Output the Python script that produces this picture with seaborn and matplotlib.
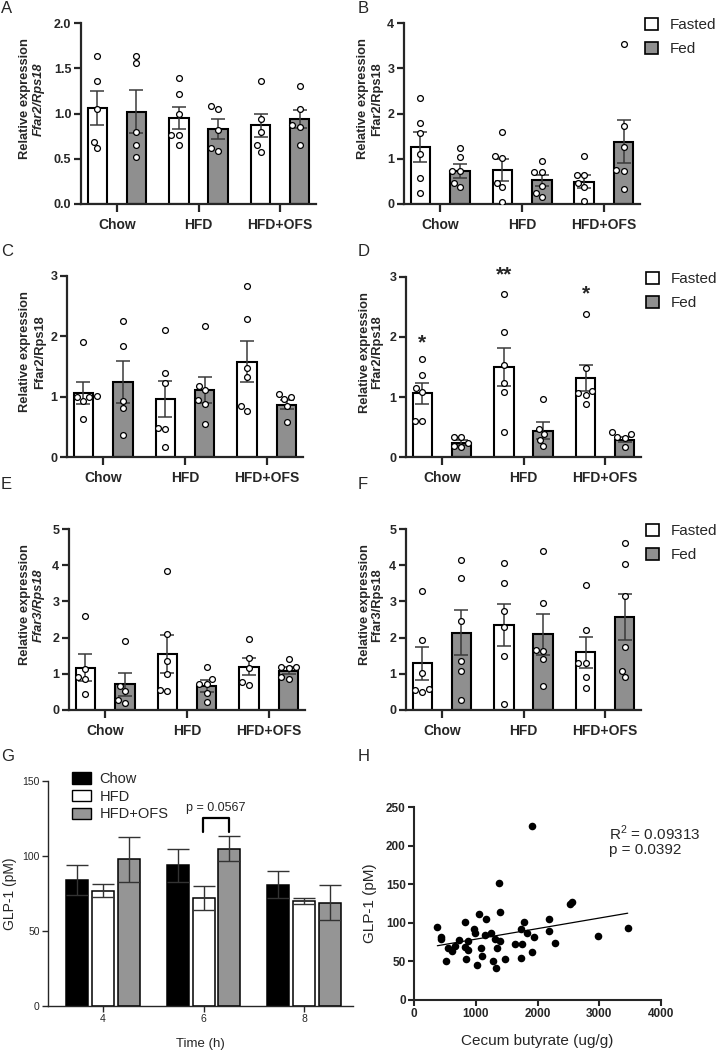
import numpy as np
import pandas as pd
import matplotlib
matplotlib.use("Agg")
import matplotlib.pyplot as plt
import seaborn as sns
from matplotlib.patches import Patch

# ---------------- data ----------------
groups = ["Chow", "HFD", "HFD+OFS"]
conditions = ["Fasted", "Fed"]

# Panel A  (Ffar2/Rps18, italic)
A_fasted_mean = [1.06, 0.95, 0.87]
A_fasted_sem = [0.19, 0.12, 0.13]
A_fed_mean = [1.02, 0.83, 0.94]
A_fed_sem = [0.24, 0.11, 0.10]
A_fasted_pts = [[1.64, 1.36, 1.05, 0.69, 0.62], [1.39, 1.21, 1.00, 0.76, 0.76, 0.65], [1.36, 0.94, 0.80, 0.65, 0.58]]
A_fed_pts = [[1.64, 1.56, 0.80, 0.65, 0.52], [1.08, 1.05, 0.82, 0.59, 0.62], [1.30, 1.05, 0.87, 0.85, 0.65]]

# Panel B
B_fasted_mean = [1.26, 0.75, 0.49]
B_fasted_sem = [0.33, 0.24, 0.14]
B_fed_mean = [0.735, 0.52, 1.38]
B_fed_sem = [0.15, 0.13, 0.48]
B_fasted_pts = [[2.35, 1.79, 1.56, 1.10, 0.58, 0.24], [1.60, 1.07, 1.01, 0.47, 0.37, 0.04], [1.07, 0.63, 0.63, 0.46, 0.37, 0.06]]
B_fed_pts = [[1.23, 1.04, 0.72, 0.72, 0.37, 0.47], [0.96, 0.71, 0.71, 0.40, 0.16, 0.25], [3.53, 1.73, 1.26, 0.76, 0.74, 0.34]]

# Panel C
C_fasted_mean = [1.06, 0.96, 1.58]
C_fasted_sem = [0.18, 0.30, 0.34]
C_fed_mean = [1.24, 1.11, 0.87]
C_fed_sem = [0.35, 0.22, 0.08]
C_fasted_pts = [[1.91, 1.01, 1.00, 0.99, 0.93, 0.63], [2.10, 1.39, 1.22, 0.48, 0.47, 0.16], [2.84, 2.29, 1.48, 1.33, 0.84, 0.77]]
C_fed_pts = [[2.25, 1.84, 0.93, 0.81, 0.36], [2.17, 1.18, 1.11, 0.94, 0.88, 0.54], [1.00, 1.04, 0.96, 0.85, 0.58]]

# Panel D
D_fasted_mean = [1.06, 1.50, 1.32]
D_fasted_sem = [0.17, 0.32, 0.22]
D_fed_mean = [0.24, 0.44, 0.29]
D_fed_sem = [0.04, 0.14, 0.04]
D_fasted_pts = [[1.63, 1.36, 1.15, 1.08, 0.60, 0.60], [2.72, 2.08, 1.53, 1.24, 1.09, 0.41], [2.38, 1.49, 1.10, 1.06, 1.04, 0.89]]
D_fed_pts = [[0.34, 0.33, 0.23, 0.19, 0.17], [0.97, 0.47, 0.39, 0.29, 0.18], [0.38, 0.41, 0.33, 0.31, 0.17]]
D_stars = ["*", "**", "*"]
D_star_y = [1.90, 3.03, 2.72]

# Panel E  (Ffar3/Rps18, italic)
E_fasted_mean = [1.17, 1.54, 1.20]
E_fasted_sem = [0.38, 0.53, 0.23]
E_fed_mean = [0.71, 0.67, 1.09]
E_fed_sem = [0.31, 0.17, 0.10]
E_fasted_pts = [[2.59, 1.13, 0.92, 0.87, 0.44], [3.84, 2.10, 1.35, 0.99, 0.53, 0.56], [1.95, 1.45, 1.15, 0.70, 0.77]]
E_fed_pts = [[1.91, 0.67, 0.53, 0.28, 0.20], [1.19, 0.85, 0.71, 0.71, 0.46, 0.23], [1.40, 1.20, 1.20, 1.16, 0.85, 0.90]]

# Panel F
F_fasted_mean = [1.29, 2.35, 1.60]
F_fasted_sem = [0.45, 0.58, 0.43]
F_fed_mean = [2.14, 2.09, 2.57]
F_fed_sem = [0.62, 0.56, 0.63]
F_fasted_pts = [[3.30, 1.92, 1.01, 0.51, 0.57, 0.55], [4.06, 3.51, 2.74, 2.28, 1.49, 0.17], [3.45, 2.20, 1.29, 1.31, 0.90, 0.62]]
F_fed_pts = [[4.14, 3.64, 2.47, 1.34, 1.09, 0.28], [4.38, 2.95, 1.62, 1.66, 1.40, 0.67], [4.61, 4.04, 3.16, 1.73, 1.09, 0.91]]

# Panel G  GLP-1 over time
G_times = ["4", "6", "8"]
G_groups = ["Chow", "HFD", "HFD+OFS"]
G_chow_mean = [84, 94, 81]
G_chow_sem = [10, 11, 9]
G_hfd_mean = [77, 72, 70]
G_hfd_sem = [4.5, 8, 2]
G_ofs_mean = [98, 105, 69]
G_ofs_sem = [15, 8.5, 11.5]

# Panel H  scatter
H_butyrate = [378, 437, 430, 518, 556, 610, 658, 723, 826, 837, 830, 880, 880, 971, 993, 1025,
              1047, 1085, 1101, 1155, 1171, 1241, 1284, 1306, 1322, 1338, 1382, 1387, 1397, 1478,
              1630, 1738, 1754, 1738, 1781, 1824, 1915, 1948, 1914, 2191, 2191, 2277, 2531, 2558,
              2987, 3461]
H_glp1 = [94, 81, 79, 50, 68, 64, 70, 78, 101, 53, 69, 77, 65, 92, 87, 45,
          112, 68, 57, 84, 105, 87, 50, 79, 42, 68, 151, 77, 114, 53,
          72, 92, 73, 55, 101, 87, 62, 82, 225, 105, 90, 74, 125, 127,
          83, 93]

# ---------------- style ----------------
sns.set_style("ticks")
plt.rcParams["font.family"] = ["Liberation Sans", "DejaVu Sans"]
plt.rcParams["mathtext.fontset"] = "custom"
plt.rcParams["mathtext.rm"] = "Liberation Sans"
FED = "#8f8f8f"
W, H = 716, 1050

fig = plt.figure(figsize=(7.16, 10.5), dpi=100)


def add_ax(l, t, r, b):
    return fig.add_axes([l / W, 1 - b / H, (r - l) / W, (b - t) / H])


def bar_panel(ax, fmean, fsem, dmean, dsem, fpts, dpts, ymax, yticks, fmt, gene, italic,
              lab1_dx, lab2_dx, legend=False):
    offs = {"Fasted": -0.24, "Fed": 0.24}
    rows, prow = [], []
    for cond, means, sems, pts in (("Fasted", fmean, fsem, fpts), ("Fed", dmean, dsem, dpts)):
        for gi, (m, s) in enumerate(zip(means, sems)):
            rows.append({"pos": gi + offs[cond], "cond": cond, "mean": m, "sem": s})
            for v in pts[gi]:
                prow.append({"pos": gi + offs[cond], "value": v})
    bars = pd.DataFrame(rows)
    pts_df = pd.DataFrame(prow)
    sns.barplot(data=bars, x="pos", y="mean", hue="cond", hue_order=conditions,
                palette={"Fasted": "white", "Fed": FED}, native_scale=True, width=0.5,
                dodge=False, edgecolor="black", linewidth=1.5, errorbar=None,
                legend=False, ax=ax, zorder=2)
    ax.errorbar(bars["pos"], bars["mean"], yerr=bars["sem"], fmt="none", ecolor="#3a3a3a",
                elinewidth=1.1, capsize=5, capthick=1.1, zorder=3)
    sns.swarmplot(data=pts_df, x="pos", y="value", native_scale=True, color="white",
                  edgecolor="black", linewidth=0.9, size=4.2, ax=ax, zorder=4)
    ax.set_xlim(-0.44, 2.44)
    ax.set_ylim(0, ymax)
    ax.set_xticks(range(len(groups)))
    ax.set_xticklabels(groups, fontsize=10, fontweight="bold")
    ax.set_yticks(yticks)
    ax.set_yticklabels([fmt.format(v) for v in yticks], fontsize=9, fontweight="bold")
    ax.set_xlabel("")
    ax.set_ylabel("")
    sns.despine(ax=ax)
    for sp in ("left", "bottom"):
        ax.spines[sp].set_linewidth(1.6)
    ax.tick_params(axis="both", width=1.6, length=5, pad=2)
    ax.tick_params(axis="x", length=6, pad=4)
    h_ax = ax.get_position().width * W
    ax.text(lab1_dx / h_ax, 0.58, "Relative expression", rotation=90, transform=ax.transAxes,
            ha="center", va="center", fontsize=9.3, fontweight="bold")
    ax.text(lab2_dx / h_ax, 0.58, gene, rotation=90, transform=ax.transAxes,
            ha="center", va="center", fontsize=9.3, fontweight="bold",
            fontstyle="italic" if italic else "normal")
    if legend:
        handles = [Patch(facecolor="white", edgecolor="black", linewidth=1.2),
                   Patch(facecolor=FED, edgecolor="black", linewidth=1.2)]
        ax.legend(handles, conditions, loc="upper left", bbox_to_anchor=(1.02, 1.03),
                  frameon=False, fontsize=11, handlelength=0.85, handleheight=0.85,
                  handletextpad=0.8, labelspacing=0.65, borderaxespad=0, borderpad=0)


axA = add_ax(81, 23, 316, 204)
bar_panel(axA, A_fasted_mean, A_fasted_sem, A_fed_mean, A_fed_sem, A_fasted_pts, A_fed_pts,
          2.0, [0, 0.5, 1.0, 1.5, 2.0], "{:.1f}", "Ffar2/Rps18", True, -56, -42)
axB = add_ax(404, 23, 640, 204)
bar_panel(axB, B_fasted_mean, B_fasted_sem, B_fed_mean, B_fed_sem, B_fasted_pts, B_fed_pts,
          4, [0, 1, 2, 3, 4], "{:.0f}", "Ffar2/Rps18", False, -41, -27, legend=True)
axC = add_ax(67, 276, 303, 457)
bar_panel(axC, C_fasted_mean, C_fasted_sem, C_fed_mean, C_fed_sem, C_fasted_pts, C_fed_pts,
          3, [0, 1, 2, 3], "{:.0f}", "Ffar2/Rps18", False, -42, -27)
axD = add_ax(406, 277, 641, 457)
bar_panel(axD, D_fasted_mean, D_fasted_sem, D_fed_mean, D_fed_sem, D_fasted_pts, D_fed_pts,
          3, [0, 1, 2, 3], "{:.0f}", "Ffar2/Rps18", False, -41, -29, legend=True)
for gi, (s, y) in enumerate(zip(D_stars, D_star_y)):
    axD.text(gi - 0.24, y, s, ha="center", va="center", fontsize=15, fontweight="bold",
             clip_on=False)
axE = add_ax(69, 529, 305, 710)
bar_panel(axE, E_fasted_mean, E_fasted_sem, E_fed_mean, E_fed_sem, E_fasted_pts, E_fed_pts,
          5, [0, 1, 2, 3, 4, 5], "{:.0f}", "Ffar3/Rps18", True, -44, -30)
axF = add_ax(406, 529, 641, 710)
bar_panel(axF, F_fasted_mean, F_fasted_sem, F_fed_mean, F_fed_sem, F_fasted_pts, F_fed_pts,
          5, [0, 1, 2, 3, 4, 5], "{:.0f}", "Ffar3/Rps18", False, -41, -29, legend=True)

# ---------------- panel G ----------------
axG = add_ax(48, 781, 353, 1006)
G_df = pd.DataFrame({
    "time": G_times * 3,
    "group": np.repeat(G_groups, 3),
    "mean": G_chow_mean + G_hfd_mean + G_ofs_mean,
    "sem": G_chow_sem + G_hfd_sem + G_ofs_sem,
})
G_colors = {"Chow": "black", "HFD": "white", "HFD+OFS": "#959595"}
sns.barplot(data=G_df, x="time", y="mean", hue="group", hue_order=G_groups, order=G_times,
            palette=G_colors, width=0.77, gap=0.15, edgecolor="black", linewidth=1.1,
            errorbar=None, legend=False, ax=axG)
centers = {}
for grp, cont in zip(G_groups, axG.containers):
    sub = G_df[G_df["group"] == grp]
    xs = [p.get_x() + p.get_width() / 2 for p in cont.patches]
    centers[grp] = xs
    axG.errorbar(xs, sub["mean"], yerr=sub["sem"], fmt="none", ecolor="#333333",
                 elinewidth=1.0, capsize=8, capthick=1.0, zorder=3)
axG.set_xlim(-0.545, 2.485)
axG.set_ylim(0, 150)
axG.set_yticks([0, 50, 100, 150])
axG.tick_params(axis="both", labelsize=7.5, width=1.0, length=4, pad=2)
axG.set_xlabel("Time (h)", fontsize=9.5, labelpad=10)
axG.set_ylabel("GLP-1 (pM)", fontsize=10, labelpad=4)
sns.despine(ax=axG)
for sp in ("left", "bottom"):
    axG.spines[sp].set_linewidth(1.0)
# bracket between HFD and HFD+OFS at 6 h
x1, x2 = centers["HFD"][1] - 0.01, centers["HFD+OFS"][1]
axG.plot([x1, x1, x2, x2], [116, 125.5, 125.5, 116], color="black", lw=1.6, clip_on=False)
axG.text((x1 + x2) / 2, 128, "p = 0.0567", ha="center", va="bottom", fontsize=9)
g_handles = [Patch(facecolor=G_colors[g], edgecolor="black", linewidth=1.0) for g in G_groups]
axG.legend(g_handles, G_groups, loc="upper left", bbox_to_anchor=(0.078, 1.04), frameon=False,
           fontsize=10.5, handlelength=1.3, handleheight=0.8, handletextpad=0.6,
           labelspacing=0.25, borderaxespad=0, borderpad=0)

# ---------------- panel H ----------------
axH = add_ax(414, 807, 661, 1000)
sns.regplot(x=H_butyrate, y=H_glp1, ci=None, truncate=True, ax=axH,
            scatter_kws=dict(s=30, color="black", linewidths=0, alpha=1),
            line_kws=dict(color="black", lw=0.9))
axH.set_xlim(0, 4000)
axH.set_ylim(0, 250)
axH.set_xticks([0, 1000, 2000, 3000, 4000])
axH.set_yticks([0, 50, 100, 150, 200, 250])
for lab in axH.get_xticklabels() + axH.get_yticklabels():
    lab.set_fontweight("bold")
    lab.set_fontsize(8.5)
axH.tick_params(axis="both", width=1.5, length=4, pad=2)
sns.despine(ax=axH)
for sp in ("left", "bottom"):
    axH.spines[sp].set_linewidth(1.5)
axH.set_xlabel("Cecum butyrate (ug/g)", fontsize=11, labelpad=10)
axH.set_ylabel("GLP-1 (pM)", fontsize=11, labelpad=6)
axH.text(3160, 216, "R$^2$ = 0.09313", ha="left", va="center", fontsize=11)
axH.text(3160, 194, "p = 0.0392", ha="left", va="center", fontsize=11)

# ---------------- panel letters ----------------
for letter, (x, y) in {"A": (1, 1), "B": (358, 1), "C": (1, 244), "D": (358, 244),
                       "E": (1, 477), "F": (358, 477), "G": (1, 749), "H": (358, 749)}.items():
    fig.text(x / W, 1 - y / H, letter, ha="left", va="top", fontsize=12)

fig.savefig("out.png", dpi=100)
